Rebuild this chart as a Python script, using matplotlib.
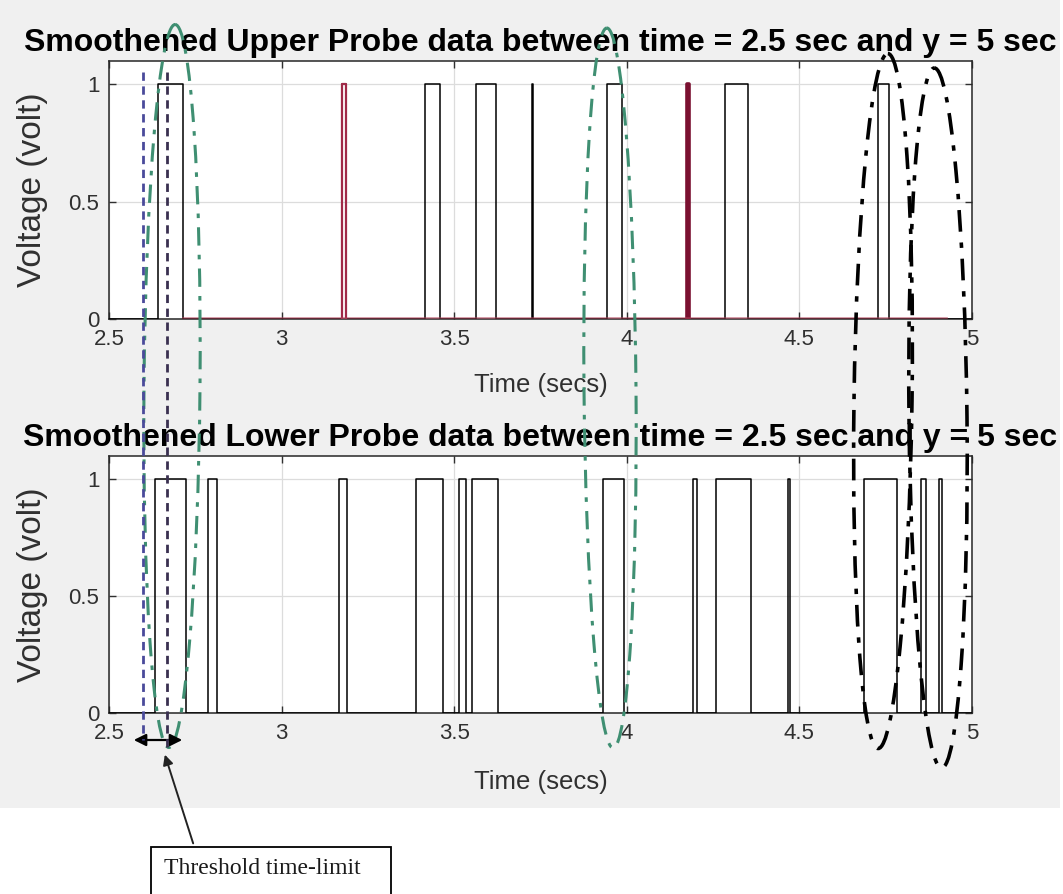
import matplotlib
matplotlib.use("Agg")
import matplotlib.pyplot as plt
from matplotlib.patches import Ellipse, Rectangle, FancyArrowPatch
import numpy as np

# ---------------- data ----------------
upper_starts = [2.641, 3.174, 3.416, 3.562, 3.725, 3.943, 4.175, 4.285, 4.729]
upper_ends   = [2.713, 3.188, 3.459, 3.620, 3.727, 3.985, 4.180, 4.352, 4.760]

lower_starts = [2.633, 2.788, 3.166, 3.389, 3.514, 3.551, 3.932, 4.191, 4.258,
                4.466, 4.688, 4.851, 4.905]
lower_ends   = [2.722, 2.814, 3.189, 3.467, 3.534, 3.628, 3.992, 4.202, 4.359,
                4.472, 4.782, 4.866, 4.913]

t_min, t_max = 2.5, 5.0
x_ticks = [2.5, 3, 3.5, 4, 4.5, 5]
x_ticklabels = ["2.5", "3", "3.5", "4", "4.5", "5"]
y_ticks = [0, 0.5, 1]
y_ticklabels = ["0", "0.5", "1"]

titles = ["Smoothened Upper Probe data between time = 2.5 sec and y = 5 sec",
          "Smoothened Lower Probe data between time = 2.5 sec and y = 5 sec"]
x_label = "Time (secs)"
y_label = "Voltage (volt)"
note_text = "Threshold time-limit"


def step_series(starts, ends):
    xs, ys = [t_min], [0]
    for s, e in zip(starts, ends):
        xs += [s, s, e, e]
        ys += [0, 1, 1, 0]
    xs.append(t_max)
    ys.append(0)
    return np.array(xs), np.array(ys)


plt.rcParams['font.family'] = ['Liberation Sans', 'DejaVu Sans']

W, H = 1063, 894
fig = plt.figure(figsize=(W / 100, H / 100), dpi=100, facecolor='white')

# grey figure background (MATLAB style) covering the plot area
bg = fig.add_axes([0, 0, 1, 1], zorder=-10)
bg.set_xlim(0, W)
bg.set_ylim(H, 0)
bg.axis('off')
bg.add_patch(Rectangle((0, 0), 1060, 808, facecolor='#f0f0f0', edgecolor='none'))

ax_top = fig.add_axes([109 / W, 1 - 319 / H, 863 / W, 258 / H])
ax_bot = fig.add_axes([109 / W, 1 - 713 / H, 863 / W, 257 / H])

tick_col = '#303030'
for ax, title, (st, en), xl_y in [(ax_top, titles[0], (upper_starts, upper_ends), -0.209),
                                  (ax_bot, titles[1], (lower_starts, lower_ends), -0.222)]:
    ax.set_facecolor('white')
    xs, ys = step_series(st, en)
    ax.plot(xs, ys, color='black', lw=1.1, zorder=3)
    ax.set_xlim(t_min, t_max)
    ax.set_ylim(0, 1.1)
    ax.set_xticks(x_ticks)
    ax.set_xticklabels(x_ticklabels)
    ax.set_yticks(y_ticks)
    ax.set_yticklabels(y_ticklabels)
    ax.grid(True, color='#dcdcdc', lw=0.9)
    ax.set_axisbelow(True)
    ax.tick_params(direction='in', length=5, width=1, top=True, right=True,
                   labelsize=16, colors=tick_col, pad=7)
    for sp in ax.spines.values():
        sp.set_color('#262626')
        sp.set_linewidth(1.1)
    ax.set_title(title, fontsize=23, fontweight='bold', pad=7, color='black')
    ax.set_xlabel(x_label, fontsize=18.5, color=tick_col)
    ax.set_ylabel(y_label, fontsize=24, color=tick_col)
    ax.xaxis.set_label_coords(0.5, xl_y)
    ax.yaxis.set_label_coords(-0.071, 0.5)

# reddish highlighted pulses in the upper probe data
red_idx = [1, 6]
for i, c, lw in zip(red_idx, ['#a02a48', '#7a1030'], [1.6, 2.6]):
    ax_top.plot([upper_starts[i], upper_starts[i], upper_ends[i], upper_ends[i]],
                [0, 1, 1, 0], color=c, lw=lw, zorder=4)
ax_top.plot([upper_ends[0], upper_starts[-1] + 0.2], [0.003, 0.003],
            color='#b04058', lw=1.2, zorder=4, alpha=0.6)

# ---------------- overlay annotations (pixel space) ----------------
ov = fig.add_axes([0, 0, 1, 1], zorder=20)
ov.set_xlim(0, W)
ov.set_ylim(H, 0)
ov.axis('off')
ov.patch.set_alpha(0)

green = '#3f8f72'
dashdot = (0, (6, 3, 1.5, 3))
ov.add_patch(Ellipse((172, 386), 56, 723, angle=0.5, fill=False, ec=green,
                     lw=2.2, ls=dashdot))
ov.add_patch(Ellipse((610, 388), 52, 720, angle=-0.5, fill=False, ec=green,
                     lw=2.2, ls=dashdot))
ov.add_patch(Ellipse((883, 401), 58, 695, angle=0.8, fill=False, ec='black',
                     lw=2.6, ls=dashdot))
ov.add_patch(Ellipse((938, 418), 58, 700, angle=-0.6, fill=False, ec='black',
                     lw=2.6, ls=dashdot))
ov.plot([143, 143], [72, 740], color='#4a4a9a', lw=2.0, ls=(0, (3, 2)))
ov.plot([167, 167], [72, 752], color='#3a3050', lw=2.0, ls=(0, (3, 2)))

ov.add_patch(FancyArrowPatch((131, 740), (185, 740), arrowstyle='<|-|>',
                             mutation_scale=18, color='black', lw=1.6))
ov.add_patch(FancyArrowPatch((194, 846), (164, 752), arrowstyle='-|>',
                             mutation_scale=15, color='#222222', lw=1.4))

ov.add_patch(Rectangle((151, 847), 240, 52, facecolor='white', edgecolor='black', lw=1.3))
ov.text(262, 869, note_text, ha='center', va='center', fontsize=17,
        family=['Liberation Serif', 'DejaVu Serif'], color='#1a1a1a')

fig.savefig('out.png', dpi=100, facecolor='white')
